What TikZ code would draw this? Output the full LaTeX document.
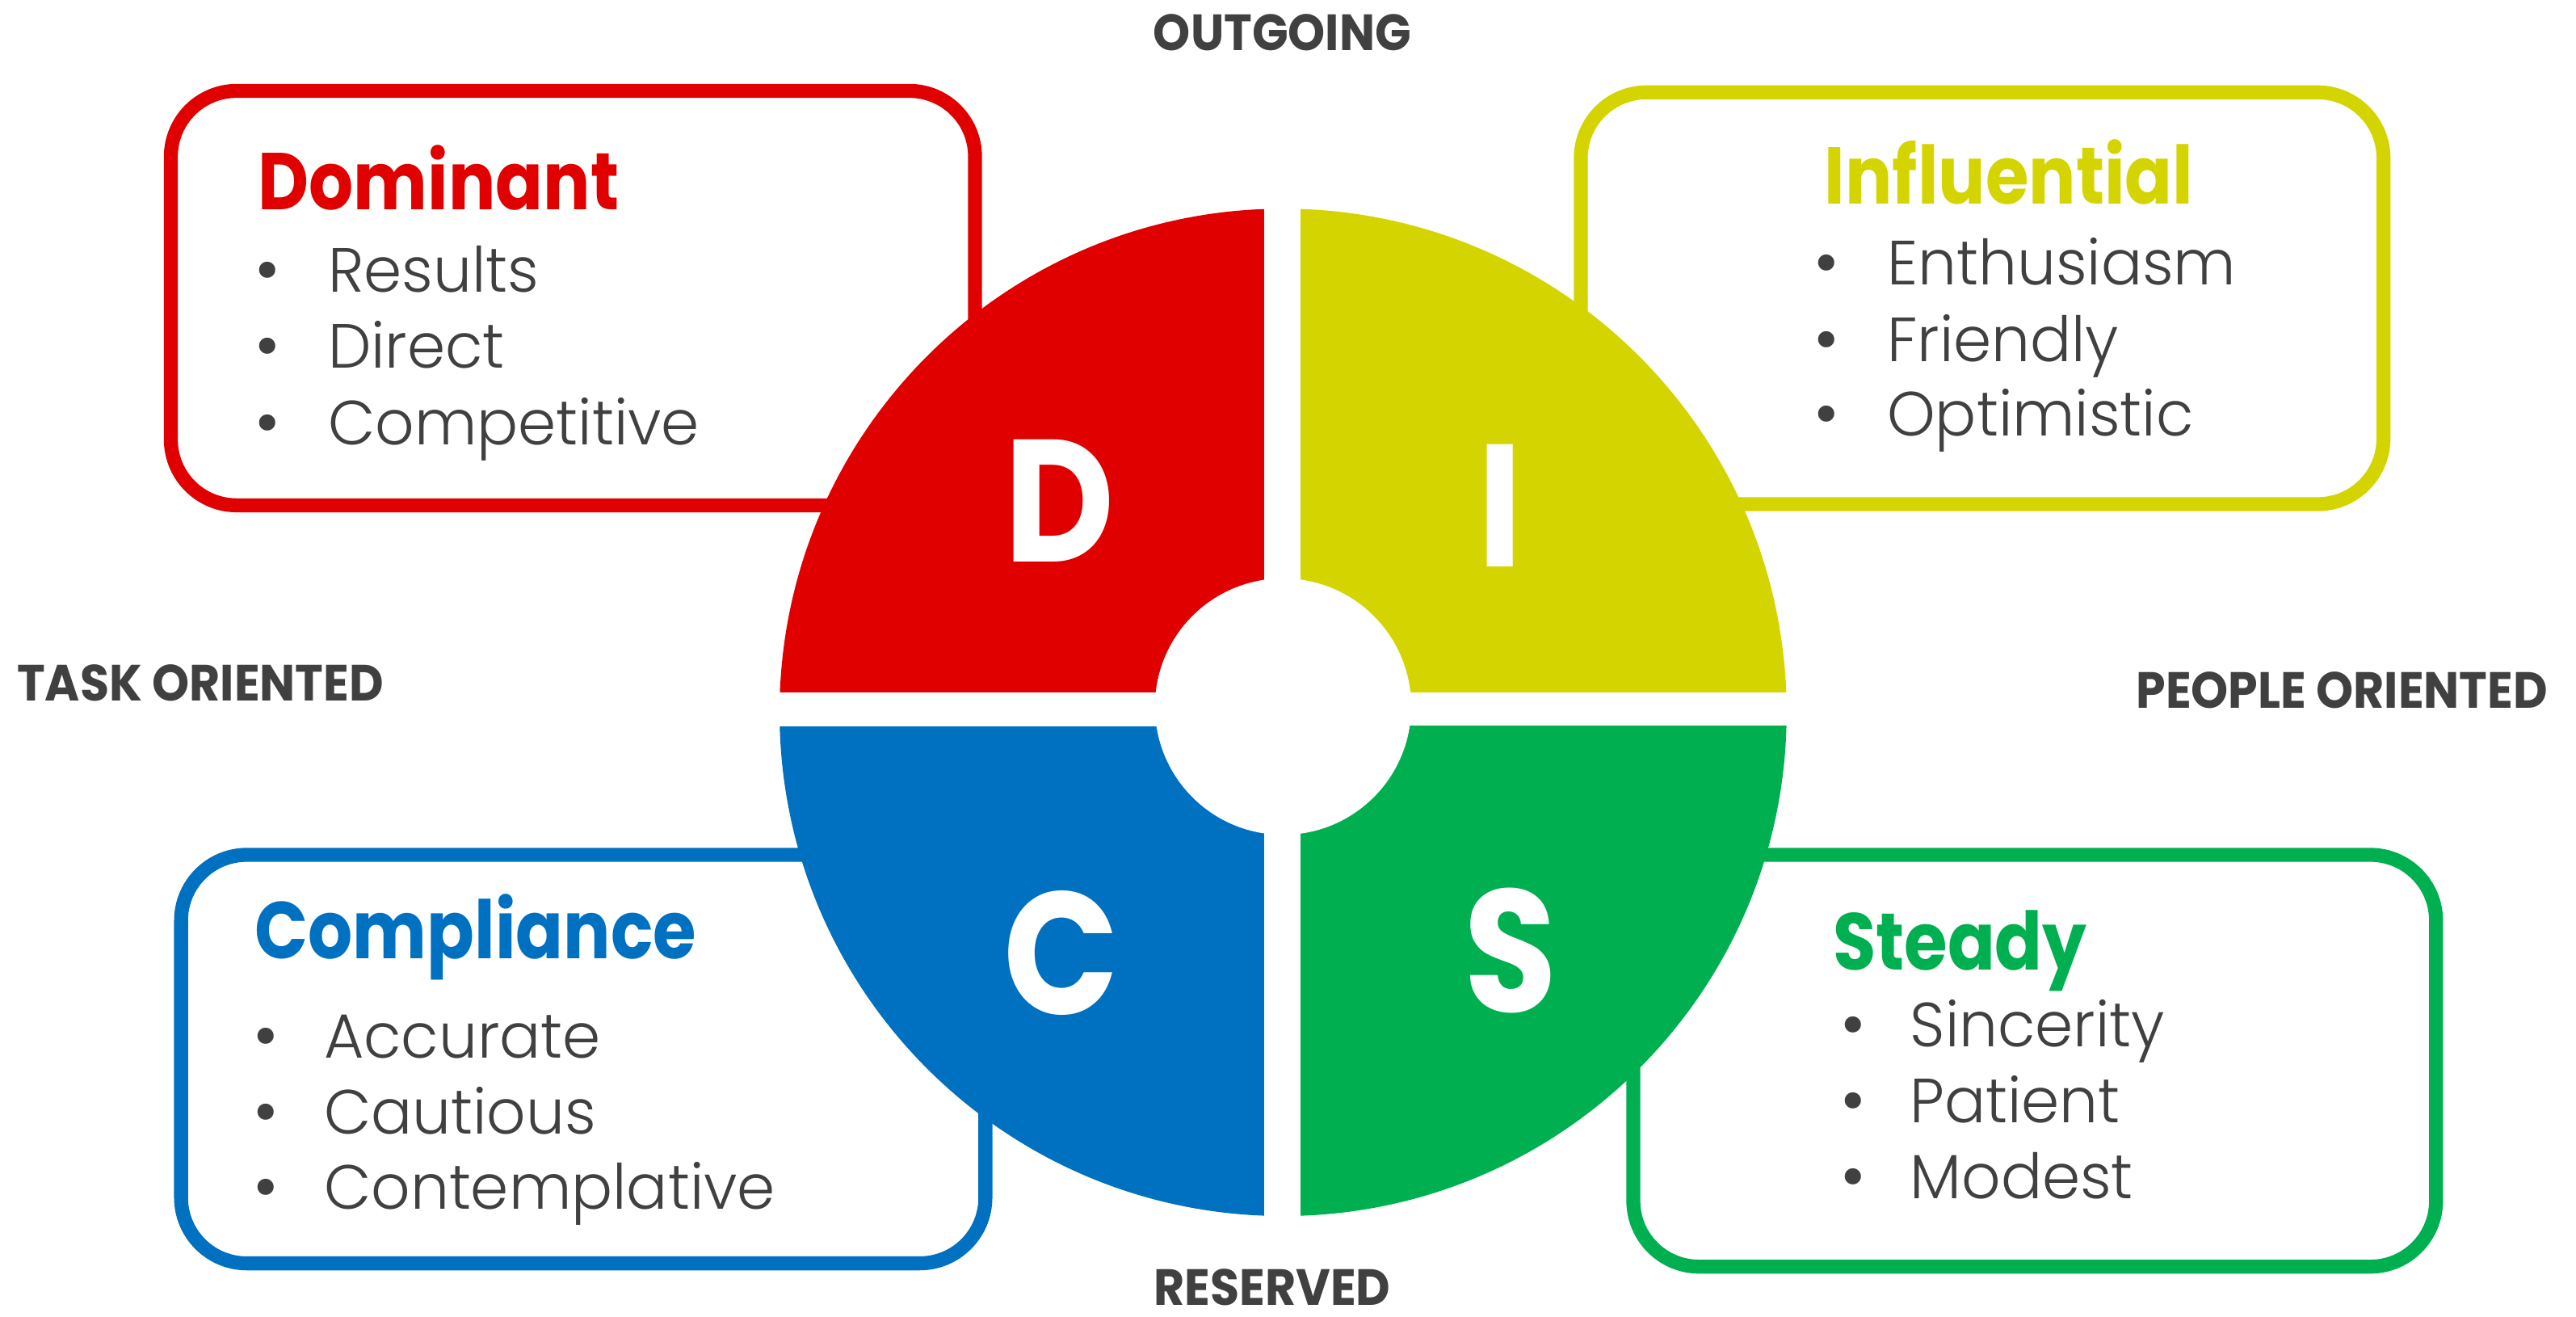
\documentclass[tikz,border=0pt]{standalone}
\usepackage{fontspec}
\setmainfont{Poppins}
\newfontfamily\thinfont{Poppins}[UprightFont={* Light}, FakeStretch=0.98]
\newfontfamily\headfont{Poppins}[FakeStretch=0.87]
\newfontfamily\sidefont{Poppins}[FakeStretch=0.93]
\usepackage{tikz}
\definecolor{discRed}{RGB}{224,0,0}
\definecolor{discYellow}{RGB}{212,212,0}
\definecolor{discBlue}{RGB}{0,112,192}
\definecolor{discGreen}{RGB}{0,176,80}
\definecolor{discGray}{RGB}{64,64,64}
\newcommand{\discRad}{306.5}
\newcommand{\holeRad}{78}
\newcommand{\discItem}[5]{\node[bul] (#1b) at (#2,#4) {•}; \node[item] (#1) at (#3,#4) {#5};}
\begin{document}
\begin{tikzpicture}[x=1pt,y=-1pt,
  box/.style={line width=8.5pt, rounded corners=40pt},
  title/.style={anchor=base west, inner sep=0pt, font=\headfont\fontsize{49}{49}\selectfont\bfseries},
  item/.style={anchor=base west, inner sep=0pt, text=discGray, font=\thinfont\fontsize{38}{38}\selectfont},
  bul/.style={anchor=base, inner sep=0pt, text=discGray, font=\fontsize{40}{40}\selectfont},
  side/.style={text=discGray, inner sep=0pt, font=\sidefont\fontsize{31}{31}\selectfont\bfseries},
  letter/.style={text=white, inner sep=0pt, font=\headfont\fontsize{106}{106}\selectfont\bfseries}]

\useasboundingbox (0,0) rectangle (1568,801);

\draw[box, discRed] (104,55.3) rectangle (593.5,307.5);
\draw[box, discYellow] (962.2,56.2) rectangle (1450.8,306.8);
\draw[box, discBlue] (110.2,520.2) rectangle (599.8,768.8);
\draw[box, discGreen] (994.2,520.2) rectangle (1482.8,770.8);

\begin{scope}
\clip (781,433.5) circle (\discRad);
\fill[discRed] (470,120) rectangle (769.5,421.5);
\fill[discYellow] (791.4,120) rectangle (1095,421.5);
\fill[discBlue] (470,442) rectangle (769.5,745);
\fill[discGreen] (791.4,441.5) rectangle (1095,745);
\end{scope}
\fill[white] (781,430) circle (\holeRad);

\node[letter] (d) at (645,304.6) {D};
\node[letter] (i) at (913,307.5) {I};
\node[letter] (c) at (646,580) {C};
\node[letter] (s) at (919.5,578.5) {S};

\node[side] (outgoing) at (780.5,20) {OUTGOING};
\node[side] (reserved) at (774.4,783.5) {RESERVED};
\node[side] (task) at (122,415.5) {TASK ORIENTED};
\node[side] (people) at (1425.5,420) {PEOPLE ORIENTED};

\node[title, text=discRed] (dominant) at (157,127.8) {Dominant};
\discItem{results}{163}{199.5}{177.6}{Results}
\discItem{direct}{163}{199.5}{224}{Direct}
\discItem{competitive}{163}{199.5}{270.5}{Competitive}

\node[title, text=discYellow] (influential) at (1110.5,124.2) {Influential};
\discItem{enthusiasm}{1112}{1148.5}{173.4}{Enthusiasm}
\discItem{friendly}{1112}{1148.5}{219.9}{Friendly}
\discItem{optimistic}{1112}{1148.5}{265.5}{Optimistic}

\node[title, text=discBlue] (compliance) at (155,583.5) {Compliance};
\discItem{accurate}{162}{197}{643.8}{Accurate}
\discItem{cautious}{162}{197}{690}{Cautious}
\discItem{contemplative}{162}{197}{735.9}{Contemplative}

\node[title, text=discGreen] (steady) at (1115.5,590.5) {Steady};
\discItem{sincerity}{1128}{1162.5}{637.2}{Sincerity}
\discItem{patient}{1128}{1162.5}{683.4}{Patient}
\discItem{modest}{1128}{1162.5}{729.3}{Modest}
\end{tikzpicture}
\end{document}
